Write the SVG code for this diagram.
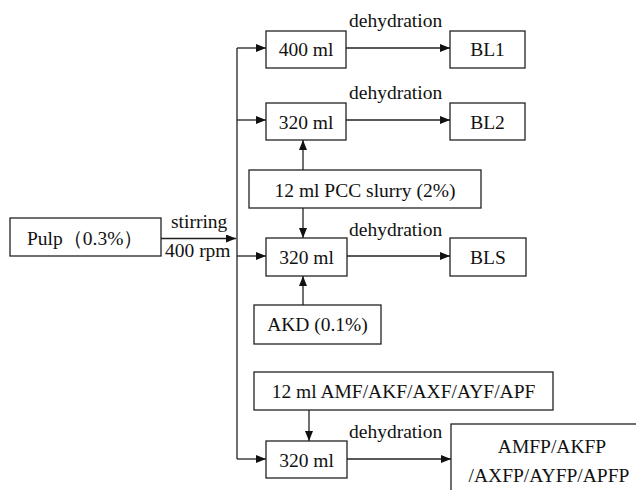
<svg xmlns="http://www.w3.org/2000/svg" width="636" height="490" viewBox="0 0 636 490">
<style>
rect{fill:#fff;stroke:#222;stroke-width:1.3}
text{font-family:"Liberation Serif","Times New Roman",serif;font-size:19.5px;fill:#111}
.c{text-anchor:middle}
.ln{fill:none;stroke:#222;stroke-width:1.3}
</style>
<defs>
<marker id="ah" viewBox="0 0 10 8" refX="10" refY="4" markerWidth="10" markerHeight="8" markerUnits="userSpaceOnUse" orient="auto">
<path d="M0,0 L10,4 L0,8 z" fill="#111"/>
</marker>
</defs>
<rect x="0" y="0" width="636" height="490" style="fill:#fff;stroke:none"/>
<g id="connectors">
<path class="ln" d="M161,238.5 H236" marker-end="url(#ah)"/>
<path class="ln" d="M237,48 V459"/>
<path class="ln" d="M237,48 H266" marker-end="url(#ah)"/>
<path class="ln" d="M237,120 H266" marker-end="url(#ah)"/>
<path class="ln" d="M237,256 H266" marker-end="url(#ah)"/>
<path class="ln" d="M237,459 H266" marker-end="url(#ah)"/>
<path class="ln" d="M346,48 H450" marker-end="url(#ah)"/>
<path class="ln" d="M346,120 H450" marker-end="url(#ah)"/>
<path class="ln" d="M347,256 H450" marker-end="url(#ah)"/>
<path class="ln" d="M347,459 H451" marker-end="url(#ah)"/>
<path class="ln" d="M303,170 V140" marker-end="url(#ah)"/>
<path class="ln" d="M303,208 V238" marker-end="url(#ah)"/>
<path class="ln" d="M303,305 V276" marker-end="url(#ah)"/>
<path class="ln" d="M309,410 V441" marker-end="url(#ah)"/>
<text x="171" y="228">stirring</text>
<text x="165" y="257">400 rpm</text>
<text x="349" y="27">dehydration</text>
<text x="349" y="99">dehydration</text>
<text x="349" y="236">dehydration</text>
<text x="349" y="438">dehydration</text>
</g>
<g id="pulp"><rect x="10" y="218" width="151" height="38"/><text x="27" y="245">Pulp（0.3%）</text></g>
<g id="n400"><rect x="266" y="31" width="80" height="37"/><text class="c" x="306" y="56">400 ml</text></g>
<g id="bl1"><rect x="450" y="31" width="75" height="37"/><text class="c" x="487.5" y="56">BL1</text></g>
<g id="n320a"><rect x="266" y="103" width="80" height="37"/><text class="c" x="306" y="129">320 ml</text></g>
<g id="bl2"><rect x="450" y="103" width="75" height="37"/><text class="c" x="487.5" y="129">BL2</text></g>
<g id="pcc"><rect x="249" y="170" width="232" height="38"/><text class="c" x="365" y="197">12 ml PCC slurry (2%)</text></g>
<g id="n320b"><rect x="266" y="238" width="81" height="38"/><text class="c" x="306.5" y="264">320 ml</text></g>
<g id="bls"><rect x="450" y="238" width="76" height="38"/><text class="c" x="488" y="264">BLS</text></g>
<g id="akd"><rect x="254" y="305" width="127" height="39"/><text class="c" x="317.5" y="331">AKD (0.1%)</text></g>
<g id="amf"><rect x="254" y="372" width="299" height="38"/><text class="c" x="403.5" y="398">12 ml AMF/AKF/AXF/AYF/APF</text></g>
<g id="n320c"><rect x="266" y="441" width="81" height="37"/><text class="c" x="306.5" y="467">320 ml</text></g>
<g id="final"><rect x="451" y="424" width="195" height="80"/><text class="c" x="552" y="453">AMFP/AKFP</text><text class="c" x="549" y="482">/AXFP/AYFP/APFP</text></g>
</svg>
